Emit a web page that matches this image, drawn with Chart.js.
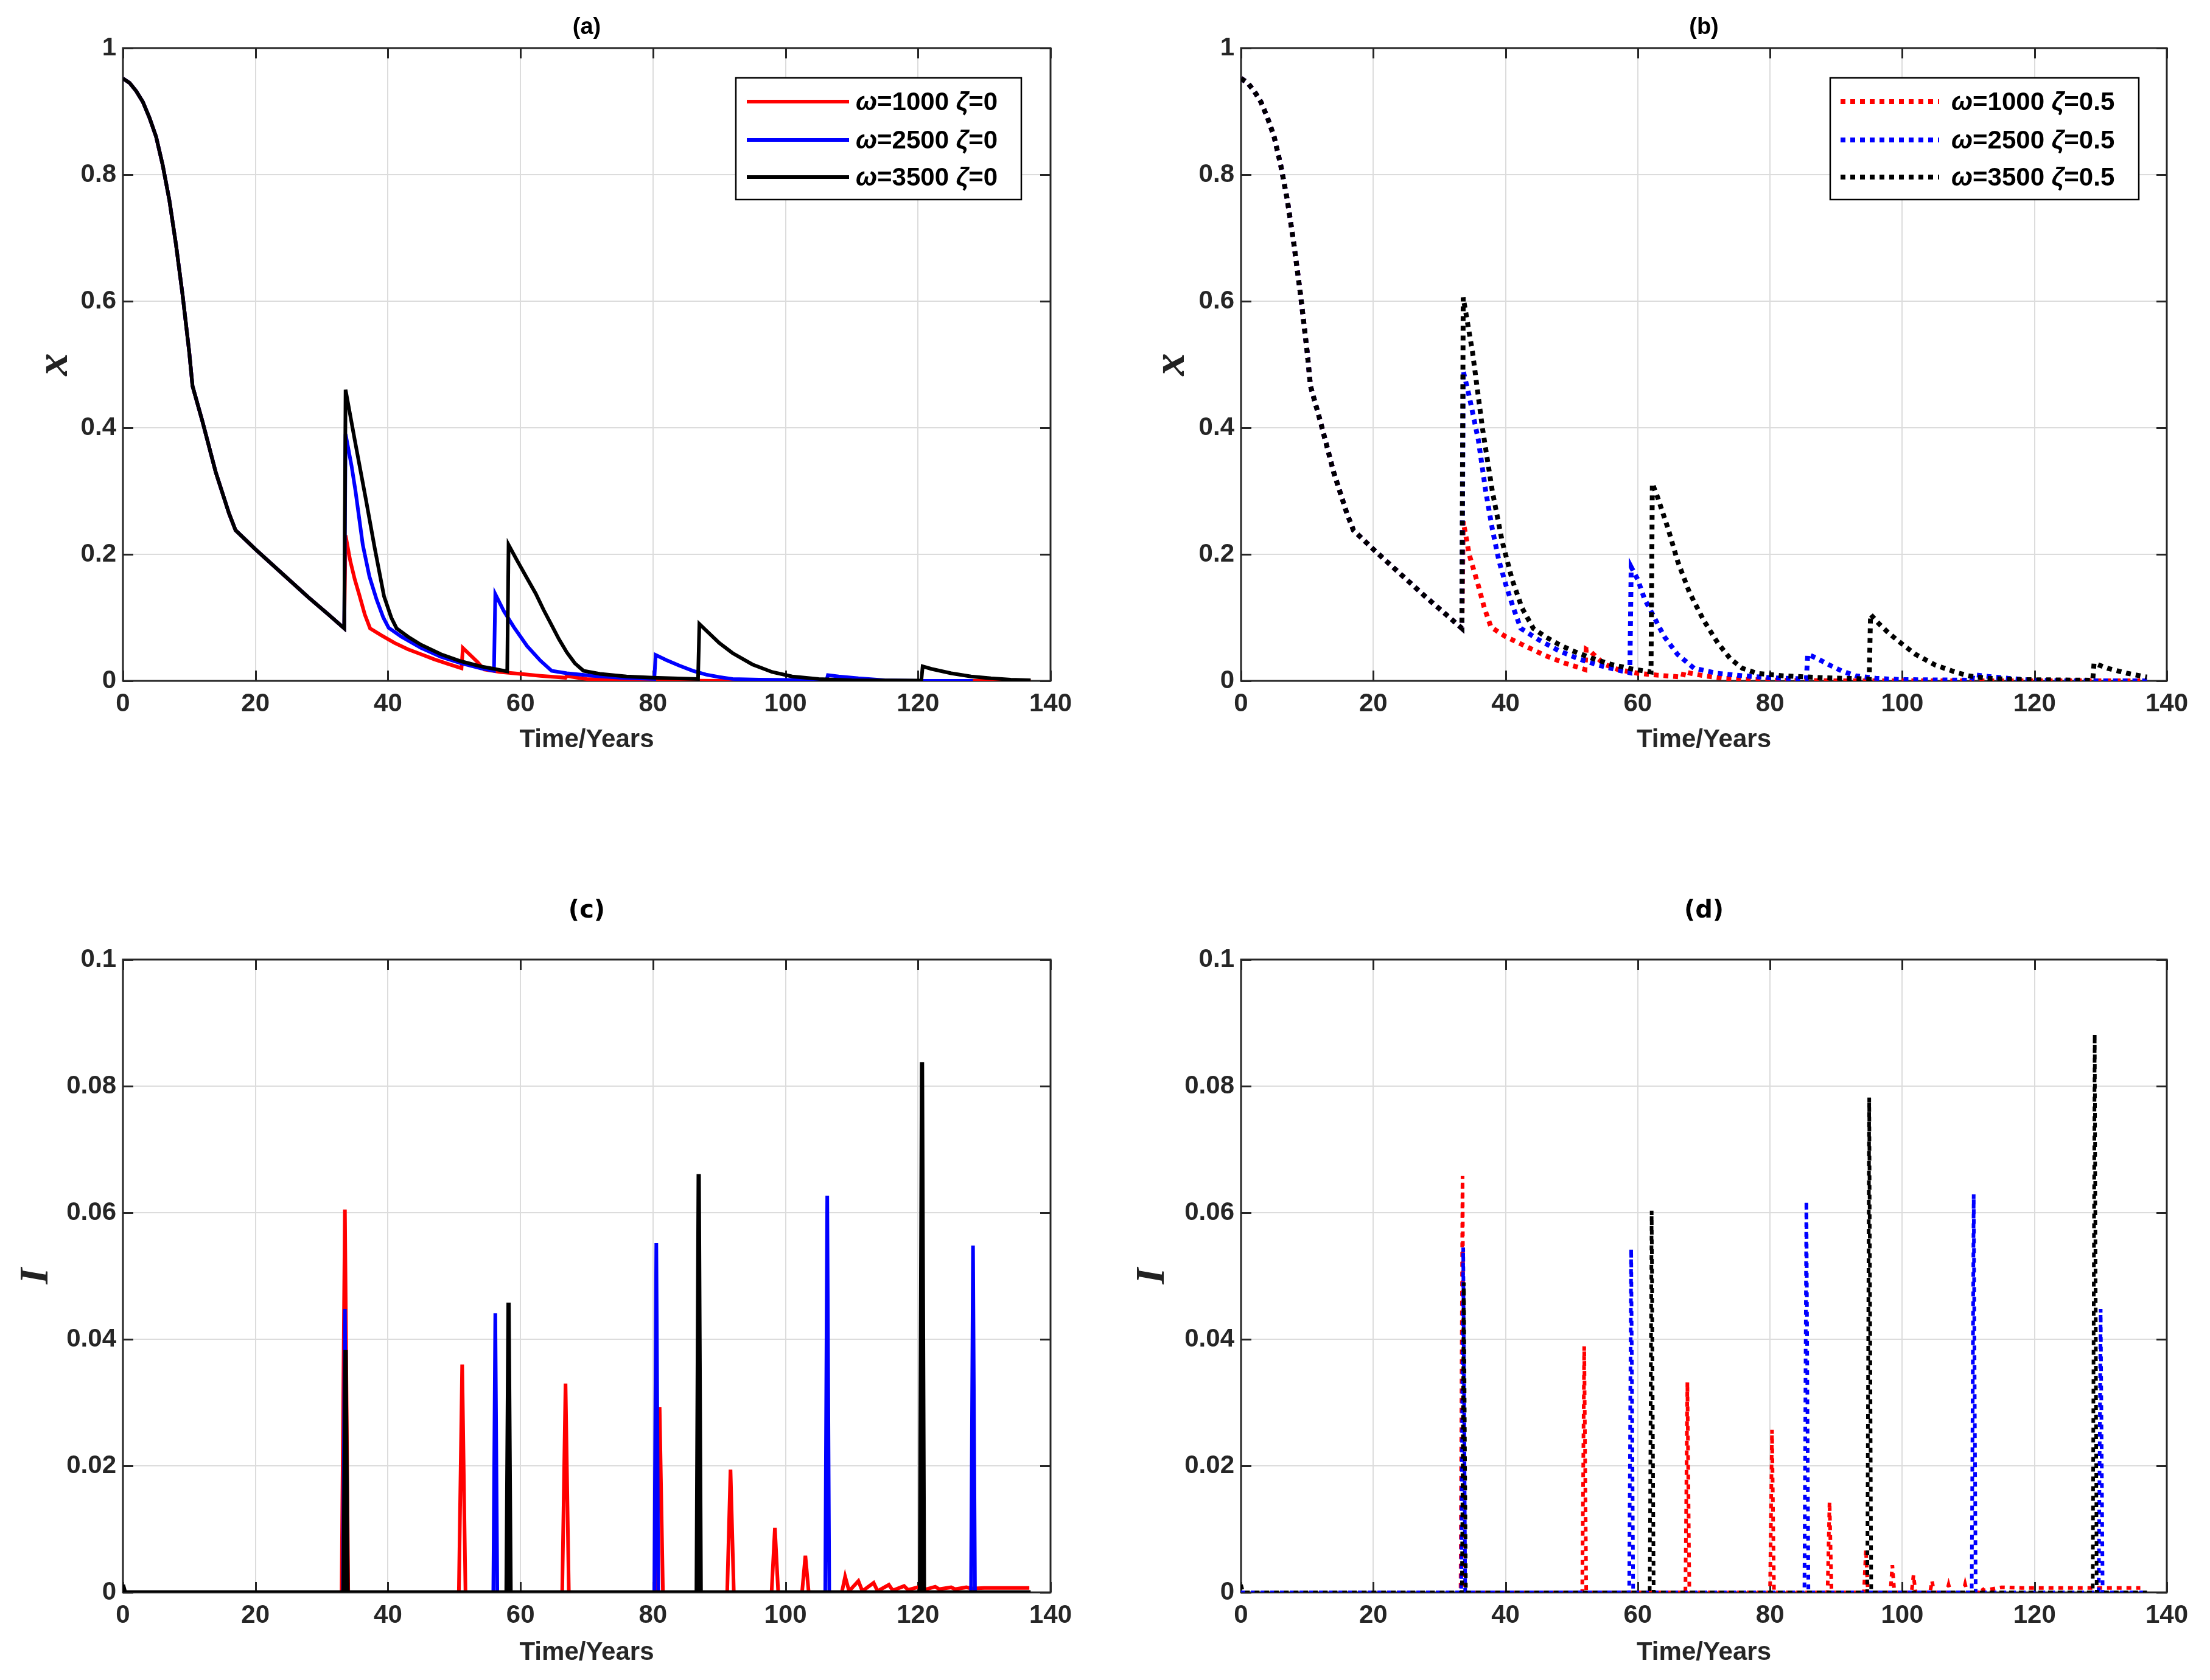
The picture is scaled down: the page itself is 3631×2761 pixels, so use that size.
<!DOCTYPE html>
<html><head><meta charset="utf-8">
<script src="https://cdn.jsdelivr.net/npm/chart.js@4.4.1/dist/chart.umd.min.js"></script>
<style>
html,body{margin:0;padding:0;background:#fff;}
#wrap{position:relative;width:3631px;height:2761px;background:#fff;overflow:hidden;}
canvas{position:absolute;}
</style></head><body><div id="wrap">
<canvas id="ca" width="1815" height="1380" style="left:0;top:0;width:1815px;height:1380px"></canvas>
<canvas id="cb" width="1816" height="1380" style="left:1815px;top:0;width:1816px;height:1380px"></canvas>
<canvas id="cc" width="1815" height="1381" style="left:0;top:1380px;width:1815px;height:1381px"></canvas>
<canvas id="cd" width="1816" height="1381" style="left:1815px;top:1380px;width:1816px;height:1381px"></canvas>
</div>
<script>
// ---------------- data ----------------
const xTicks = [0,20,40,60,80,100,120,140];
const xTickLabels = ['0','20','40','60','80','100','120','140'];
const yTicksTop = [0,0.2,0.4,0.6,0.8,1];
const yTickLabelsTop = ['0','0.2','0.4','0.6','0.8','1'];
const yTicksBot = [0,0.02,0.04,0.06,0.08,0.1];
const yTickLabelsBot = ['0','0.02','0.04','0.06','0.08','0.1'];
const legendA = ['ω=1000 ζ=0','ω=2500 ζ=0','ω=3500 ζ=0'];
const legendB = ['ω=1000 ζ=0.5','ω=2500 ζ=0.5','ω=3500 ζ=0.5'];
const panelTitles = ['(a)','(b)','(c)','(d)'];

// shared start of x(t)
const tInit = [0,1,2,3,4,5,6,7,8,9,10,10.5,12,14,16,17,20,24,28,31,33.4];
const xInit = [0.952,0.945,0.932,0.915,0.89,0.86,0.815,0.76,0.69,0.61,0.52,0.466,0.41,0.33,0.265,0.238,0.208,0.17,0.132,0.105,0.083];

// (a) zeta = 0
const tA_r = [33.6,34.3,35,35.7,36.5,37.3,39,41,43,45,47,49,51.1,51.3,52.5,53.5,54.5,57,60,63,66.8,67,68,70,75,80,90,137];
const xA_r = [0.23,0.19,0.16,0.135,0.105,0.083,0.072,0.06,0.05,0.042,0.034,0.027,0.02,0.052,0.04,0.03,0.018,0.014,0.011,0.008,0.005,0.008,0.006,0.003,0.002,0.001,0,0];
const tA_b = [33.6,34.5,35.1,36.2,37.2,38.3,39.3,40.1,42,45,48,51,54,56,56.2,57.5,59,61,63,64.7,67,71,75,80.2,80.4,82,84,86,88,90,92,96,106.2,106.4,108,111,115,120,128.3];
const xA_b = [0.39,0.34,0.30,0.215,0.165,0.128,0.1,0.084,0.07,0.052,0.038,0.028,0.02,0.016,0.137,0.11,0.085,0.055,0.032,0.016,0.012,0.008,0.005,0.003,0.041,0.033,0.024,0.016,0.01,0.006,0.003,0.002,0.001,0.009,0.007,0.004,0.001,0,0];
const tA_k = [33.6,35,36.7,38,39.4,40.5,41.3,43,45,48,51,54,56,58,58.2,59.5,61,62.3,63.5,64.7,65.8,67,68.2,69.5,72,76,80,86.8,87,88,90,92,95,98,101,105,110,120.5,120.7,122,125,128,131,134,137];
const xA_k = [0.46,0.38,0.285,0.21,0.134,0.1,0.083,0.07,0.057,0.042,0.031,0.023,0.019,0.015,0.215,0.19,0.162,0.138,0.112,0.088,0.066,0.045,0.028,0.016,0.011,0.007,0.005,0.003,0.09,0.08,0.06,0.044,0.026,0.014,0.007,0.003,0.001,0.0005,0.023,0.019,0.012,0.007,0.004,0.002,0.001];

// (b) zeta = 0.5
const tB_r = [33.6,34.5,35.9,36.8,37.8,40,43,46,49,52,52.2,53,54,55,57,60,63,66.8,67,68,70,73,77,82,90,137];
const xB_r = [0.252,0.2,0.15,0.115,0.085,0.07,0.055,0.04,0.028,0.018,0.05,0.045,0.035,0.026,0.018,0.012,0.009,0.006,0.015,0.012,0.008,0.004,0.002,0.001,0,0];
const tB_b = [33.6,34.5,35.9,37,38,39,40.1,41.2,42.3,45,48,51,54,57,58.8,59,60,61,62.5,64,66,68.5,72,76,80,85.5,85.7,87,89,91,93,96,100,110.5,110.7,113,116,120,125,137];
const xB_b = [0.49,0.45,0.38,0.3,0.24,0.19,0.15,0.115,0.083,0.065,0.048,0.035,0.025,0.017,0.013,0.18,0.16,0.13,0.1,0.07,0.042,0.02,0.012,0.008,0.005,0.003,0.042,0.036,0.025,0.015,0.008,0.004,0.002,0.001,0.01,0.007,0.004,0.001,0,0];
const tB_k = [33.6,35,36.5,38,39.5,41,42.5,44.2,46,48,50,53,56,59,62,62.2,63,64.6,66,67.8,70,72.1,74,75.8,78,82,88,95,95.2,96.5,98,100,102,105,108,110,113,118,128.8,129,131,134,137];
const xB_k = [0.606,0.52,0.4,0.3,0.22,0.16,0.115,0.083,0.07,0.058,0.048,0.036,0.026,0.019,0.014,0.312,0.29,0.24,0.19,0.14,0.095,0.06,0.035,0.02,0.012,0.008,0.005,0.003,0.105,0.09,0.075,0.058,0.042,0.025,0.014,0.008,0.004,0.002,0.001,0.028,0.02,0.012,0.006];

// (c) I(t), zeta = 0
const tC_r = [0,33.0,33.5,34.0,50.7,51.2,51.7,66.3,66.8,67.3,80.5,81.0,81.5,91.2,91.7,92.2,97.9,98.4,98.9,102.5,103.0,103.5,108.5,109,109.6,111,111.6,113.3,113.9,115.6,116.2,117.9,118.5,120.3,120.9,122.6,123.2,125,125.6,127.3,128,130,133,136.8];
const yC_r = [0,0,0.0605,0,0,0.036,0,0,0.033,0,0,0.0293,0,0,0.0194,0,0,0.0102,0,0,0.0058,0,0,0.0025,0.0002,0.0018,0.0002,0.0015,0.0002,0.0012,0.0003,0.001,0.0004,0.0009,0.0004,0.0009,0.0005,0.0008,0.0005,0.0008,0.0006,0.0007,0.0007,0.0007];
const tC_b = [0,33.2,33.5,33.8,55.9,56.2,56.5,80.2,80.5,80.8,106.0,106.3,106.6,128.0,128.3,128.6];
const yC_b = [0,0,0.0448,0,0,0.0441,0,0,0.0552,0,0,0.0627,0,0,0.0548,0];
const tC_k = [0,0.3,33.3,33.6,33.9,57.9,58.2,58.5,86.6,86.9,87.2,120.3,120.6,120.9,137];
const yC_k = [0.0012,0,0,0.0383,0,0,0.0458,0,0,0.0661,0,0,0.0838,0,0];

// (d) I(t), zeta = 0.5
const tD_r = [0,33.2,33.5,33.8,51.6,51.9,52.2,67.2,67.5,67.8,80.0,80.3,80.6,88.7,89.0,89.3,94.2,94.5,94.8,98.2,98.5,98.8,101.4,101.7,102.0,104.2,104.5,104.8,106.7,107,107.3,109.2,109.5,109.8,111.7,112,112.3,115,118,121,124,127,130,133,136];
const yD_r = [0,0,0.0658,0,0,0.0389,0,0,0.0332,0,0,0.0257,0,0,0.0143,0,0,0.0068,0,0,0.0043,0,0,0.0027,0,0,0.0018,0,0,0.0012,0,0,0.0013,0,0,0.0008,0.0003,0.0008,0.0007,0.0007,0.0007,0.0007,0.0007,0.0007,0.0007];
const tD_b = [0,33.3,33.6,33.9,58.7,59.0,59.3,85.2,85.5,85.8,110.5,110.8,111.1,129.7,130.0,130.3,137];
const yD_b = [0,0,0.0545,0,0,0.0543,0,0,0.0618,0,0,0.0629,0,0,0.0448,0,0];
const tD_k = [0,0.3,33.4,33.7,34.0,61.8,62.1,62.4,94.7,95.0,95.3,128.8,129.1,129.4,137];
const yD_k = [0.0012,0,0,0.049,0,0,0.0603,0,0,0.0782,0,0,0.0882,0,0];

// ---------------- helpers ----------------
const COL = {r:'#ff0000', b:'#0000ff', k:'#000000'};
const AXC = '#262626';
const SANS = '"Liberation Sans", Arial, Helvetica, sans-serif';
const SERIF = '"Liberation Serif", "Times New Roman", serif';
function pts(t, v){ return t.map((x,i)=>({x:x, y:v[i]})); }
function withInit(t, v){ return pts(tInit.concat(t), xInit.concat(v)); }

function ds(data, col, order, dotted, w){
  return {data:data, borderColor:col, backgroundColor:col, borderWidth:w, pointRadius:0,
    tension:0, fill:false, order:order, borderDash: dotted ? [8,8] : [], borderCapStyle:'butt', borderJoinStyle:'miter'};
}

function drawRich(ctx, text, x, y, size){
  const parts = text.split(/([ωζ])/).filter(s=>s.length);
  for (const p of parts){
    const greek = /[ωζ]/.test(p);
    ctx.font = (greek ? 'italic bold ' : 'bold ') + size + 'px ' + SANS;
    ctx.fillText(p, x, y);
    x += ctx.measureText(p).width;
  }
}

function framePlugin(cfg){
  return {
    id: 'frame',
    beforeDatasetsDraw(chart){
      const ctx = chart.ctx, a = chart.chartArea;
      const xs = chart.scales.x, ys = chart.scales.y;
      ctx.save();
      ctx.strokeStyle = AXC; ctx.lineWidth = 3; ctx.setLineDash([]);
      ctx.beginPath();
      for (const v of xTicks){
        const p = Math.round(xs.getPixelForValue(v)) + 0.5;
        ctx.moveTo(p, a.bottom); ctx.lineTo(p, a.bottom - 17);
        ctx.moveTo(p, a.top); ctx.lineTo(p, a.top + 17);
      }
      for (const v of cfg.yTicks){
        const p = Math.round(ys.getPixelForValue(v)) + 0.5;
        ctx.moveTo(a.left, p); ctx.lineTo(a.left + 17, p);
        ctx.moveTo(a.right, p); ctx.lineTo(a.right - 17, p);
      }
      ctx.stroke();
      ctx.strokeRect(a.left, a.top, a.right - a.left, a.bottom - a.top);
      ctx.restore();
    },
    afterDraw(chart){
      const ctx = chart.ctx, a = chart.chartArea;
      ctx.save();
      ctx.fillStyle = '#000';
      ctx.textAlign = 'center'; ctx.textBaseline = 'middle';
      ctx.font = cfg.titleFont;
      ctx.fillText(cfg.title, (a.left + a.right)/2, cfg.titleY);
      if (cfg.legend){
        const L = cfg.legend;
        ctx.fillStyle = '#fff';
        ctx.fillRect(L.x0, L.y0, L.x1 - L.x0, L.y1 - L.y0);
        ctx.strokeStyle = '#000'; ctx.lineWidth = 2.5; ctx.setLineDash([]);
        ctx.strokeRect(L.x0, L.y0, L.x1 - L.x0, L.y1 - L.y0);
        const sets = chart.data.datasets;
        L.labels.forEach((lab, i) => {
          const d = sets[L.map[i]];
          const y = L.rows[i];
          ctx.strokeStyle = d.borderColor; ctx.lineWidth = d.borderWidth;
          ctx.setLineDash(d.borderDash || []);
          ctx.lineCap = 'butt';
          ctx.beginPath(); ctx.moveTo(L.s0, y); ctx.lineTo(L.s1, y); ctx.stroke();
          ctx.setLineDash([]);
          ctx.fillStyle = '#000'; ctx.textAlign = 'left'; ctx.textBaseline = 'middle';
          drawRich(ctx, lab, L.tx, y + 2, 42);
        });
      }
      ctx.restore();
    }
  };
}

function makeChart(id, cfg){
  const tickFont = {family: SANS, size: 42, weight: 'bold'};
  const c = document.getElementById(id);
  return new Chart(c, {
    type: 'line',
    data: {datasets: cfg.datasets},
    options: {
      responsive: false, animation: false, devicePixelRatio: 1, events: [],
      layout: {padding: cfg.pad},
      plugins: {legend: {display: false}, tooltip: {enabled: false}, title: {display: false}},
      scales: {
        x: {
          type: 'linear', min: 0, max: 140,
          afterBuildTicks: s => { s.ticks = xTicks.map(v => ({value: v})); },
          afterFit: s => { s.height = cfg.xH; },
          grid: {color: '#dcdcdc', lineWidth: 2, drawTicks: false},
          border: {display: false},
          ticks: {font: tickFont, color: AXC, padding: 13, maxRotation: 0, autoSkip: false,
                  callback: (v, i) => xTickLabels[i]},
          title: {display: true, text: 'Time/Years', color: AXC,
                  font: {family: SANS, size: 42, weight: 'bold', lineHeight: 1.2},
                  padding: {top: 0, bottom: 0}}
        },
        y: {
          type: 'linear', min: 0, max: cfg.yMax,
          afterBuildTicks: s => { s.ticks = cfg.yTicks.map(v => ({value: v})); },
          afterFit: s => { s.width = cfg.yW; },
          grid: {color: '#dcdcdc', lineWidth: 2, drawTicks: false},
          border: {display: false},
          ticks: {font: tickFont, color: AXC, padding: 11, autoSkip: false,
                  callback: (v, i) => cfg.yLabels[i]},
          title: {display: true, text: cfg.yTitle, color: '#222',
                  font: {family: SERIF, size: cfg.yTitleSize, weight: 'bold', style: 'italic', lineHeight: 1},
                  padding: {top: cfg.yTitleX - cfg.yTitleSize/2, bottom: 0}}
        }
      }
    },
    plugins: [framePlugin(cfg)]
  });
}

// ---------------- charts ----------------
makeChart('ca', {
  datasets: [
    ds(withInit(tA_r, xA_r), COL.r, 3, false, 6),
    ds(withInit(tA_b, xA_b), COL.b, 2, false, 6),
    ds(withInit(tA_k, xA_k), COL.k, 1, false, 6)
  ],
  pad: {left: 0, top: 79, right: 89, bottom: 138}, xH: 123, yW: 202,
  yMax: 1, yTicks: yTicksTop, yLabels: yTickLabelsTop, yTitle: 'x', yTitleX: 91, yTitleSize: 74,
  title: panelTitles[0], titleY: 46, titleFont: 'bold 38px ' + SANS,
  legend: {x0: 1209, y0: 128, x1: 1678, y1: 328, rows: [167, 230, 291], s0: 1227, s1: 1395, tx: 1406,
           labels: legendA, map: [0, 1, 2]}
});

makeChart('cb', {
  datasets: [
    ds(withInit(tB_r, xB_r), COL.r, 3, true, 8),
    ds(withInit(tB_b, xB_b), COL.b, 2, true, 8),
    ds(withInit(tB_k, xB_k), COL.k, 1, true, 8)
  ],
  pad: {left: 0, top: 79, right: 71, bottom: 138}, xH: 123, yW: 224,
  yMax: 1, yTicks: yTicksTop, yLabels: yTickLabelsTop, yTitle: 'x', yTitleX: 111, yTitleSize: 74,
  title: panelTitles[1], titleY: 46, titleFont: 'bold 38px ' + SANS,
  legend: {x0: 1192, y0: 128, x1: 1699, y1: 328, rows: [167, 230, 291], s0: 1209, s1: 1371, tx: 1391,
           labels: legendB, map: [0, 1, 2]}
});

makeChart('cc', {
  datasets: [
    ds(pts(tC_r, yC_r), COL.r, 3, false, 6),
    ds(pts(tC_b, yC_b), COL.b, 2, false, 6),
    ds(pts(tC_k, yC_k), COL.k, 1, false, 7)
  ],
  pad: {left: 0, top: 197, right: 89, bottom: 19}, xH: 125, yW: 202,
  yMax: 0.1, yTicks: yTicksBot, yLabels: yTickLabelsBot, yTitle: 'I', yTitleX: 60, yTitleSize: 68,
  title: panelTitles[2], titleY: 118, titleFont: 'bold 40px "DejaVu Sans", sans-serif'
});

makeChart('cd', {
  datasets: [
    ds(pts(tD_r, yD_r), COL.r, 3, true, 6),
    ds(pts(tD_b, yD_b), COL.b, 2, true, 6),
    ds(pts(tD_k, yD_k), COL.k, 1, true, 6)
  ],
  pad: {left: 0, top: 197, right: 71, bottom: 19}, xH: 125, yW: 224,
  yMax: 0.1, yTicks: yTicksBot, yLabels: yTickLabelsBot, yTitle: 'I', yTitleX: 79, yTitleSize: 68,
  title: panelTitles[3], titleY: 118, titleFont: 'bold 40px "DejaVu Sans", sans-serif'
});
</script>
</body></html>
